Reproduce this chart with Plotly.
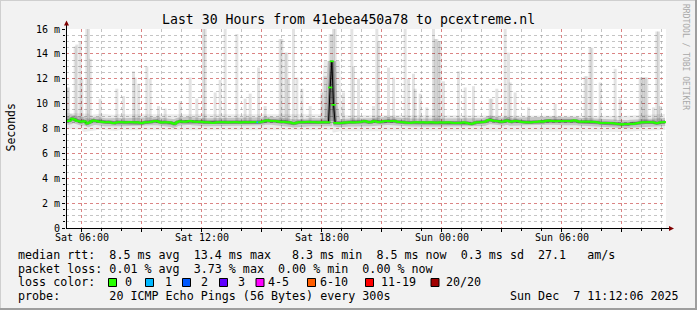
import plotly.graph_objects as go
import pandas as pd

# ---------------- data ----------------
start = pd.Timestamp("2025-12-06 05:12:06")
end = pd.Timestamp("2025-12-07 11:12:06")

# median rtt (ms), one value per 5-minute step, one row per hour
median_ms = [
    8.60, 8.60, 8.65, 8.80, 8.75, 8.70, 8.60, 8.60, 8.55, 8.55, 8.60, 8.55,
    8.40, 8.45, 8.50, 8.60, 8.65, 8.62, 8.60, 8.55, 8.55, 8.55, 8.50, 8.50,
    8.50, 8.52, 8.50, 8.45, 8.42, 8.45, 8.50, 8.50, 8.52, 8.50, 8.50, 8.48,
    8.50, 8.50, 8.52, 8.50, 8.50, 8.48, 8.50, 8.50, 8.45, 8.42, 8.48, 8.50,
    8.50, 8.50, 8.52, 8.55, 8.58, 8.60, 8.60, 8.55, 8.50, 8.48, 8.50, 8.50,
    8.50, 8.48, 8.50, 8.45, 8.38, 8.38, 8.50, 8.55, 8.58, 8.55, 8.55, 8.55,
    8.55, 8.60, 8.62, 8.58, 8.55, 8.55, 8.55, 8.52, 8.55, 8.55, 8.50, 8.50,
    8.50, 8.50, 8.48, 8.45, 8.45, 8.48, 8.50, 8.50, 8.50, 8.52, 8.50, 8.50,
    8.50, 8.48, 8.50, 8.50, 8.50, 8.52, 8.50, 8.50, 8.48, 8.50, 8.50, 8.52,
    8.50, 8.50, 8.50, 8.52, 8.52, 8.52, 8.52, 8.50, 8.50, 8.55, 8.58, 8.62,
    8.65, 8.65, 8.60, 8.62, 8.60, 8.60, 8.58, 8.55, 8.55, 8.52, 8.55, 8.52,
    8.50, 8.50, 8.50, 8.45, 8.40, 8.42, 8.48, 8.50, 8.50, 8.50, 8.50, 8.52,
    8.52, 8.55, 8.52, 8.50, 8.52, 8.50, 8.50, 8.48, 8.50, 8.50, 8.50, 8.50,
    8.50, 8.50, 11.30, 13.40, 9.90, 8.45, 8.45, 8.42, 8.45, 8.45, 8.48, 8.48,
    8.48, 8.50, 8.50, 8.50, 8.48, 8.50, 8.50, 8.50, 8.52, 8.55, 8.58, 8.60,
    8.55, 8.50, 8.50, 8.52, 8.60, 8.58, 8.55, 8.50, 8.52, 8.55, 8.58, 8.60,
    8.60, 8.60, 8.58, 8.60, 8.60, 8.60, 8.55, 8.52, 8.52, 8.50, 8.50, 8.48,
    8.48, 8.45, 8.45, 8.48, 8.48, 8.50, 8.50, 8.50, 8.48, 8.50, 8.50, 8.48,
    8.48, 8.48, 8.50, 8.50, 8.48, 8.48, 8.47, 8.48, 8.50, 8.48, 8.48, 8.48,
    8.48, 8.50, 8.48, 8.47, 8.45, 8.45, 8.45, 8.47, 8.45, 8.47, 8.50, 8.48,
    8.45, 8.42, 8.38, 8.38, 8.42, 8.48, 8.50, 8.50, 8.50, 8.50, 8.52, 8.55,
    8.62, 8.70, 8.70, 8.65, 8.62, 8.62, 8.60, 8.58, 8.55, 8.55, 8.55, 8.60,
    8.65, 8.60, 8.55, 8.55, 8.58, 8.62, 8.60, 8.58, 8.55, 8.52, 8.50, 8.50,
    8.50, 8.50, 8.48, 8.50, 8.52, 8.52, 8.55, 8.55, 8.58, 8.55, 8.55, 8.60,
    8.62, 8.65, 8.62, 8.60, 8.60, 8.58, 8.58, 8.60, 8.60, 8.58, 8.60, 8.60,
    8.60, 8.60, 8.58, 8.62, 8.65, 8.65, 8.60, 8.55, 8.55, 8.55, 8.55, 8.55,
    8.55, 8.55, 8.55, 8.52, 8.55, 8.52, 8.50, 8.48, 8.45, 8.45, 8.45, 8.45,
    8.45, 8.45, 8.45, 8.42, 8.42, 8.40, 8.38, 8.36, 8.36, 8.30, 8.35, 8.36,
    8.35, 8.35, 8.38, 8.38, 8.36, 8.40, 8.42, 8.45, 8.48, 8.50, 8.50, 8.50,
    8.50, 8.52, 8.50, 8.50, 8.50, 8.45, 8.42, 8.45, 8.50, 8.50, 8.50, 8.52,
]

# samples with packet loss (step index, lost pings of 20)
loss_step = [115]
loss_count = [1]

# smoke outliers: step index and highest ping (ms)
spike_step = [0, 1, 5, 6, 8, 9, 12, 13, 14, 20, 30, 34, 40, 41, 43, 48, 50, 55, 59,
              68, 74, 78, 82, 83, 89, 92, 95, 102, 107, 110, 115, 119, 128, 129,
              131, 132, 133, 136, 138, 141, 146, 153, 155, 158, 159, 160, 161, 166,
              171, 172, 175, 184, 186, 187, 193, 196, 203, 205, 208, 209, 212, 216,
              220, 221, 222, 223, 224, 226, 235, 239, 244, 254, 255, 258, 263, 265,
              266, 269, 277, 293, 311, 312, 314, 315, 320, 329, 332, 344, 345, 346,
              347, 348, 352, 354, 355, 356]
spike_max = [11.3, 11.3, 14.6, 14.75, 15.0, 12.0, 16.5, 16.5, 13.6, 10.4, 11.2, 10.6, 12.6, 12.1, 11.6, 13.0, 12.0, 9.8, 9.6,
             10.2, 12.1, 10.4, 16.5, 16.5, 10.9, 11.9, 16.5, 15.6, 10.4, 10.8, 12.9, 9.8, 15.2, 15.2,
             14.1, 14.1, 12.0, 16.5, 12.1, 11.2, 9.8, 10.9, 12.2, 15.6, 15.6, 16.5, 16.5, 10.9,
             16.5, 13.0, 12.0, 9.8, 16.5, 15.0, 12.9, 12.1, 16.5, 12.0, 12.4, 11.2, 10.8, 9.7,
             16.5, 15.2, 15.2, 15.0, 15.0, 11.8, 12.6, 11.3, 11.4, 10.4, 10.4, 11.2, 16.5, 14.1,
             11.7, 10.9, 9.7, 10.0, 12.2, 12.2, 14.5, 14.5, 11.7, 12.8, 10.4, 12.1, 12.1, 12.1,
             12.1, 12.1, 9.7, 15.8, 15.8, 9.8]

y_ticks = [0, 2, 4, 6, 8, 10, 12, 14, 16]
y_labels = ["0", "2 m", "4 m", "6 m", "8 m", "10 m", "12 m", "14 m", "16 m"]
x_ticks = ["2025-12-06 06:00", "2025-12-06 09:00", "2025-12-06 12:00", "2025-12-06 15:00",
           "2025-12-06 18:00", "2025-12-06 21:00", "2025-12-07 00:00", "2025-12-07 03:00",
           "2025-12-07 06:00", "2025-12-07 09:00"]
x_labels = ["Sat 06:00", "", "Sat 12:00", "", "Sat 18:00", "", "Sun 00:00", "", "Sun 06:00", ""]

loss_names = ["0", "1", "2", "3", "4-5", "6-10", "11-19", "20/20"]
loss_colors = ["#26ff00", "#00b8ff", "#0059ff", "#5e00ff", "#ff00ff", "#ff5e00", "#ff0000", "#a10000"]

title = "Last 30 Hours from 41ebea450a78 to pcextreme.nl"
legend_rows = [
    "median rtt:  8.5 ms avg  13.4 ms max   8.3 ms min  8.5 ms now  0.3 ms sd  27.1   am/s",
    "packet loss: 0.01 % avg  3.73 % max  0.00 % min  0.00 % now",
    "loss color:",
    "probe:       20 ICMP Echo Pings (56 Bytes) every 300s",
]
stamp = "Sun Dec  7 11:12:06 2025"

# ---------------- figure ----------------
W, H = 697, 310
L, R, T, B = 66, 31, 29, 82
PW, PH = W - L - R, H - T - B
MONO = "DejaVu Sans Mono"
LEG_SIZE = 11.68


def px(x):
    return (x - L) / PW


def py(y):
    return (T + PH - y) / PH


n = len(median_ms)
times = pd.date_range(start, periods=n, freq="5min") + pd.Timedelta(minutes=2.5)
step_ms = 5 * 60 * 1000

line_colors = [loss_colors[0]] * n
for s, c in zip(loss_step, loss_count):
    line_colors[s] = loss_colors[min(c, 7)]

fig = go.Figure()

# outlier smoke columns
fig.add_trace(go.Bar(
    x=[times[i] for i in spike_step],
    base=[8.6] * len(spike_step),
    y=[v - 8.6 for v in spike_max],
    width=step_ms * 1.8,
    marker=dict(color="rgba(0,0,0,0.11)", line=dict(width=0)),
    hoverinfo="skip", showlegend=False,
))

# smoke around the median
for w, col in [(16, "rgba(0,0,0,0.08)"), (8, "rgba(0,0,0,0.16)"), (3.5, "rgba(0,0,0,0.33)")]:
    fig.add_trace(go.Scatter(
        x=times, y=median_ms, mode="lines",
        line=dict(color=col, width=w),
        hoverinfo="skip", showlegend=False,
    ))

fig.add_trace(go.Scatter(
    x=times, y=median_ms, mode="lines",
    line=dict(color="#000000", width=1),
    hoverinfo="skip", showlegend=False,
))
fig.add_trace(go.Scatter(
    x=times, y=median_ms, mode="markers",
    marker=dict(symbol="line-ew", size=3, line=dict(width=1.7, color=line_colors)),
    hoverinfo="skip", showlegend=False,
))

shapes = []
# figure frame (3D shade)
shapes.append(dict(type="rect", xref="paper", yref="paper", x0=px(0), x1=px(W), y0=py(1), y1=py(0),
                   line=dict(width=0), fillcolor="#cfcfcf", layer="below"))
shapes.append(dict(type="rect", xref="paper", yref="paper", x0=px(0), x1=px(1), y0=py(H), y1=py(0),
                   line=dict(width=0), fillcolor="#cfcfcf", layer="below"))
shapes.append(dict(type="rect", xref="paper", yref="paper", x0=px(0), x1=px(W), y0=py(H), y1=py(H - 2),
                   line=dict(width=0), fillcolor="#9e9e9e", layer="below"))
shapes.append(dict(type="rect", xref="paper", yref="paper", x0=px(W - 2), x1=px(W), y0=py(H), y1=py(0),
                   line=dict(width=0), fillcolor="#9e9e9e", layer="below"))
# axis lines with arrows
shapes.append(dict(type="line", xref="paper", yref="paper", x0=px(66.5), x1=px(66.5), y0=py(228), y1=py(24),
                   line=dict(color="#000000", width=1)))
shapes.append(dict(type="line", xref="paper", yref="paper", x0=px(66), x1=px(670), y0=py(228.5), y1=py(228.5),
                   line=dict(color="#000000", width=1)))
shapes.append(dict(type="path", xref="paper", yref="paper",
                   path="M %f %f L %f %f L %f %f Z" % (px(64), py(25.5), px(69), py(25.5), px(66.5), py(20.5)),
                   line=dict(width=0), fillcolor="#7f0000"))
shapes.append(dict(type="path", xref="paper", yref="paper",
                   path="M %f %f L %f %f L %f %f Z" % (px(669), py(226), px(669), py(231), px(674), py(228.5)),
                   line=dict(width=0), fillcolor="#7f0000"))

annotations = []
annotations.append(dict(text=title, xref="paper", yref="paper", x=px(348), y=py(19),
                        xanchor="center", yanchor="middle", showarrow=False,
                        font=dict(family=MONO, size=13.2, color="#000000")))
annotations.append(dict(text="Seconds", xref="paper", yref="paper", x=px(10.5), y=py(128),
                        xanchor="center", yanchor="middle", showarrow=False, textangle=-90,
                        font=dict(family=MONO, size=11.5, color="#000000")))
annotations.append(dict(text="RRDTOOL / TOBI OETIKER", xref="paper", yref="paper", x=px(686), y=py(57),
                        xanchor="center", yanchor="middle", showarrow=False, textangle=90,
                        font=dict(family=MONO, size=8, color="#a8a8a8")))
row_y = [254.5, 268.5, 282.3, 296]
for txt, yy in zip(legend_rows, row_y):
    annotations.append(dict(text=txt.replace(" ", "&nbsp;"), xref="paper", yref="paper", x=px(16), y=py(yy),
                            xanchor="left", yanchor="middle", showarrow=False,
                            font=dict(family=MONO, size=LEG_SIZE, color="#000000")))
annotations.append(dict(text=stamp.replace(" ", "&nbsp;"), xref="paper", yref="paper", x=px(681), y=py(296),
                        xanchor="right", yanchor="middle", showarrow=False,
                        font=dict(family=MONO, size=LEG_SIZE, color="#000000")))
box_left = [108.5, 145.5, 182.5, 219.5, 256, 307.5, 365.5, 431]
label_left = [123, 162.5, 199, 236, 266, 317.5, 379, 444]
for bl, ll, name, col in zip(box_left, label_left, loss_names, loss_colors):
    shapes.append(dict(type="rect", xref="paper", yref="paper", x0=px(bl), x1=px(bl + 8),
                       y0=py(286.5), y1=py(278.5), line=dict(color="#000000", width=1), fillcolor=col))
    annotations.append(dict(text=name, xref="paper", yref="paper", x=px(ll), y=py(282.3),
                            xanchor="left", yanchor="middle", showarrow=False,
                            font=dict(family=MONO, size=LEG_SIZE, color="#000000")))

fig.update_layout(
    width=W, height=H,
    margin=dict(l=L, r=R, t=T, b=B, pad=0),
    paper_bgcolor="#f2f2f2", plot_bgcolor="#ffffff",
    showlegend=False, barmode="overlay",
    shapes=shapes, annotations=annotations,
    xaxis=dict(
        type="date", range=[start, end], fixedrange=True,
        tickvals=x_ticks, ticktext=x_labels,
        tickfont=dict(family=MONO, size=10, color="#000000"),
        ticklabelstandoff=-3,
        showgrid=True, gridcolor="rgba(225,110,110,0.75)", griddash="dot", gridwidth=1,
        minor=dict(dtick=3600000, tick0="2025-12-06 06:00", showgrid=True,
                   gridcolor="rgba(150,150,150,0.55)", griddash="dot", gridwidth=1,
                   ticks="outside", ticklen=2, tickcolor="#000000"),
        ticks="outside", ticklen=3, tickcolor="#000000",
        showline=False, zeroline=False,
    ),
    yaxis=dict(
        range=[0, 16], fixedrange=True,
        tickvals=y_ticks, ticktext=y_labels,
        tickfont=dict(family=MONO, size=10, color="#000000"),
        showgrid=True, gridcolor="rgba(225,110,110,0.75)", griddash="dot", gridwidth=1,
        minor=dict(dtick=0.5, showgrid=True, gridcolor="rgba(150,150,150,0.55)",
                   griddash="dot", gridwidth=1, ticks="outside", ticklen=2, tickcolor="#000000"),
        ticks="outside", ticklen=3, tickcolor="#000000",
        showline=False, zeroline=False,
    ),
)

fig.write_html("out.html")
